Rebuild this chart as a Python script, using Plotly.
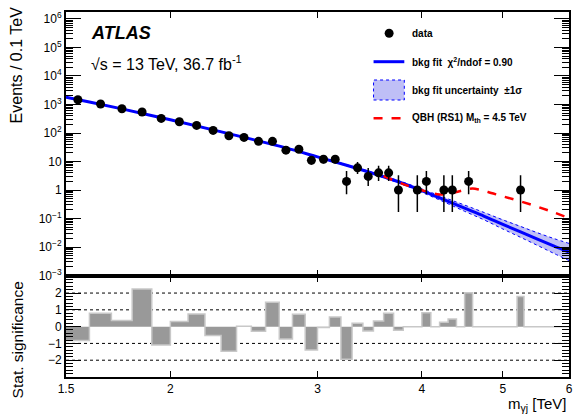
import numpy as np
import plotly.graph_objects as go

# ---------------- data ----------------
data_m = [1.55, 1.65, 1.75, 1.85, 1.95, 2.05, 2.15, 2.25, 2.35, 2.45, 2.55, 2.65, 2.75, 2.85,
          2.95, 3.05, 3.15, 3.25, 3.35, 3.45, 3.55, 3.65, 3.75, 3.95, 4.05, 4.25, 4.35, 4.55, 5.25]
data_n = [1470, 1040, 712, 546, 325, 249, 185, 123, 80, 70, 51, 51, 25, 27,
          11, 12, 12, 2, 6, 3, 4, 4, 1, 1, 2, 1, 1, 2, 1]
data_err_hi = [38, 32, 27, 23, 18, 16, 14, 11, 9.5, 8.9, 8.2, 8.2, 6.1, 6.3,
               4.4, 4.5, 4.5, 2.64, 3.58, 2.92, 3.16, 3.16, 2.3, 2.3, 2.64, 2.3, 2.3, 2.64, 2.3]
data_err_lo = [38, 32, 27, 23, 18, 16, 14, 11, 8.4, 7.9, 7.1, 7.1, 5.0, 5.2,
               3.28, 3.43, 3.43, 1.29, 2.38, 1.63, 1.91, 1.91, 0.83, 0.83, 1.29, 0.83, 0.83, 1.29, 0.83]

fit_m = [1.5, 1.6, 1.75, 2.0, 2.25, 2.5, 2.75, 3.0, 3.25, 3.5, 3.75, 4.0, 4.25, 4.5, 4.75,
         5.0, 5.25, 5.5, 5.75, 6.0]
fit_v = [1800, 1230, 703, 290, 129, 61, 30, 14.5, 7.4, 3.8, 1.95, 0.95, 0.46, 0.23, 0.12,
         0.062, 0.034, 0.019, 0.011, 0.0067]
band_hi = [1842, 1259, 719, 297, 132, 62.4, 30.7, 15.0, 7.75, 4.07, 2.14, 1.09, 0.553, 0.296, 0.162,
           0.0896, 0.0527, 0.0316, 0.020, 0.0134]
band_lo = [1759, 1202, 687, 283, 126, 59.6, 29.3, 14.0, 7.07, 3.55, 1.78, 0.83, 0.383, 0.179, 0.089,
           0.0429, 0.0219, 0.0114, 0.00605, 0.00336]

qbh_m = [3.6, 3.8, 4.0, 4.2, 4.3, 4.4, 4.5, 4.6, 4.7, 4.8, 5.0, 5.25, 5.5, 5.75, 6.0]
qbh_v = [3.1, 1.6, 0.98, 0.70, 0.72, 0.85, 1.0, 1.12, 1.0, 0.85, 0.6, 0.4, 0.26, 0.165, 0.104]

sig_edges = [round(v, 2) for v in np.arange(1.5, 6.05, 0.1)]
sig_vals = [-0.83, 0.80, 0.36, 2.24, -1.10, 0.30, 0.75, -0.53, -1.46, 0.03,
            -0.27, 1.45, -0.73, 0.73, -1.39, -0.05, 0.58, -1.94, 0.20, -0.26,
            0.34, 0.80, -0.21, 0.0, 0.0, 0.82, 0.0, 0.26, 0.46, 0.0,
            2.02, 0.0, 0.0, 0.0, 0.0, 0.0, 0.0, 1.79, 0.0, 0.0,
            0.0, 0.0, 0.0, 0.0, 0.0]

y_tickvals = [1e-3, 1e-2, 1e-1, 1, 10, 1e2, 1e3, 1e4, 1e5, 1e6]
y_ticktext = ["10<sup>−3</sup>", "10<sup>−2</sup>", "10<sup>−1</sup>", "1", "10",
              "10<sup>2</sup>", "10<sup>3</sup>", "10<sup>4</sup>", "10<sup>5</sup>", "10<sup>6</sup>"]
x_tickvals = [1.5, 2, 3, 4, 5, 6]
x_ticktext = ["1.5", "2", "3", "4", "5", "6"]
sig_tickvals = [-2, -1, 0, 1, 2]
sig_ticktext = ["−2", "−1", "0", "1", "2"]

# ---------------- layout geometry (pixels) ----------------
W, H = 577, 416
L, R, T, B = 66, 573, 12, 377
PW, PH = R - L, B - T
def px(x):
    return (x - L) / PW
def py(y):
    return (B - y) / PH

FONT = "Liberation Sans, Arial, Helvetica, sans-serif"
BLUE = "#0000ff"
RED = "#ff0000"

fig = go.Figure()

# band
fig.add_trace(go.Scatter(x=fit_m + fit_m[::-1], y=band_hi + band_lo[::-1], fill="toself",
                         fillcolor="rgba(180,180,245,0.85)", line=dict(width=0),
                         mode="lines", hoverinfo="skip", showlegend=False, xaxis="x", yaxis="y"))
for arr in (band_hi, band_lo):
    fig.add_trace(go.Scatter(x=fit_m, y=arr, mode="lines", line=dict(color=BLUE, width=1, dash="dot", shape="spline"),
                             showlegend=False, xaxis="x", yaxis="y"))
# fit line
fig.add_trace(go.Scatter(x=fit_m, y=fit_v, mode="lines", line=dict(color=BLUE, width=3, shape="spline"),
                         showlegend=False, xaxis="x", yaxis="y"))
# QBH
fig.add_trace(go.Scatter(x=qbh_m, y=qbh_v, mode="lines", line=dict(color=RED, width=2.5, dash="dash", shape="spline"),
                         showlegend=False, xaxis="x", yaxis="y"))
# data
fig.add_trace(go.Scatter(x=data_m, y=data_n, mode="markers",
                         marker=dict(color="black", size=9),
                         error_y=dict(type="data", symmetric=False, array=data_err_hi, arrayminus=data_err_lo,
                                      color="black", thickness=1.5, width=0),
                         showlegend=False, xaxis="x", yaxis="y"))

# significance histogram
fig.add_trace(go.Scatter(x=sig_edges, y=sig_vals + [sig_vals[-1]], mode="lines",
                         line=dict(shape="hv", color="#c8c8c8", width=1.5),
                         fill="tozeroy", fillcolor="#999999",
                         showlegend=False, xaxis="x2", yaxis="y2"))

minor_main = [m * 10.0 ** e for e in range(-3, 7) for m in range(2, 10) if m * 10.0 ** e < 2e6]

axis_line = dict(showline=True, linecolor="black", linewidth=2, mirror="allticks",
                 ticks="inside", tickcolor="black", showgrid=False, zeroline=False)
tick_font = dict(family=FONT, size=12, color="black")

fig.update_layout(
    width=W, height=H,
    margin=dict(l=L, r=W - R, t=T, b=H - B),
    paper_bgcolor="white", plot_bgcolor="white",
    showlegend=False,
    xaxis=dict(type="log", range=[np.log10(1.5), np.log10(6)], domain=[0, 1], anchor="y",
               tickvals=[2, 3, 4, 5], showticklabels=False, ticklen=6, tickwidth=1, **axis_line),
    yaxis=dict(type="log", range=[-3, 6.245], domain=[0.278, 1], anchor="x",
               tickvals=y_tickvals, ticktext=y_ticktext, ticklen=15, tickwidth=1.2, tickfont=tick_font,
               minor=dict(tickvals=minor_main, ticks="inside", ticklen=7, tickcolor="black", tickwidth=1),
               **axis_line),
    xaxis2=dict(type="log", range=[np.log10(1.5), np.log10(6)], domain=[0, 1], anchor="y2", matches="x",
                tickvals=x_tickvals, ticktext=x_ticktext, ticklen=6, tickwidth=1, tickfont=tick_font,
                **axis_line),
    yaxis2=dict(range=[-3, 3], domain=[0, 0.276], anchor="x2",
                tickvals=sig_tickvals, ticktext=sig_ticktext, ticklen=15, tickwidth=1.2, tickfont=tick_font,
                minor=dict(dtick=0.2, ticks="inside", ticklen=7, tickcolor="black", tickwidth=1),
                **axis_line),
)

# dotted reference lines in significance panel
for v in (-2, -1, 1, 2):
    fig.add_shape(type="line", xref="x2 domain", yref="y2", x0=0, x1=1, y0=v, y1=v,
                  line=dict(color="black", width=1, dash="dot"), layer="below")

# texts
fig.add_annotation(xref="paper", yref="paper", x=px(89), y=py(33), xanchor="left", yanchor="middle",
                   text="<b><i>ATLAS</i></b>", showarrow=False, font=dict(family=FONT, size=18, color="black"))
fig.add_annotation(xref="paper", yref="paper", x=px(89), y=py(63), xanchor="left", yanchor="middle",
                   text="√s = 13 TeV, 36.7 fb<sup>-1</sup>", showarrow=False,
                   font=dict(family=FONT, size=16, color="black"))

# legend (manual)
lx0, lx1, ltx = 376, 407, 413
fig.add_shape(type="circle", xref="paper", yref="paper", x0=px(387.2), x1=px(396.2), y0=py(37.8), y1=py(28.8),
              fillcolor="black", line=dict(color="black", width=0))
fig.add_shape(type="line", xref="paper", yref="paper", x0=px(lx0), x1=px(lx1), y0=py(61.7), y1=py(61.7),
              line=dict(color=BLUE, width=3))
fig.add_shape(type="rect", xref="paper", yref="paper", x0=px(lx0), x1=px(lx1), y0=py(100), y1=py(80),
              fillcolor="rgba(180,180,245,0.85)", line=dict(color=BLUE, width=1, dash="dot"))
fig.add_shape(type="line", xref="paper", yref="paper", x0=px(lx0), x1=px(lx1), y0=py(118.3), y1=py(118.3),
              line=dict(color=RED, width=2.5, dash="dash"))
leg_texts = [("data", 33.3), ("bkg fit  χ<sup>2</sup>/ndof = 0.90", 61.7),
             ("bkg fit uncertainty  ±1σ", 90), ("QBH (RS1) M<sub>th</sub> = 4.5 TeV", 118.3)]
for t, yy in leg_texts:
    fig.add_annotation(xref="paper", yref="paper", x=px(ltx), y=py(yy), xanchor="left", yanchor="middle",
                       text="<b>" + t + "</b>", showarrow=False, font=dict(family=FONT, size=10, color="black"))

# axis titles
fig.add_annotation(xref="paper", yref="paper", x=px(17), y=py(65), xanchor="center", yanchor="middle",
                   text="Events / 0.1 TeV", textangle=-90, showarrow=False,
                   font=dict(family=FONT, size=16, color="black"))
fig.add_annotation(xref="paper", yref="paper", x=px(17), y=py(340), xanchor="center", yanchor="middle",
                   text="Stat. significance", textangle=-90, showarrow=False,
                   font=dict(family=FONT, size=15.5, color="black"))
fig.add_annotation(xref="paper", yref="paper", x=px(572), y=py(404), xanchor="right", yanchor="middle",
                   text="m<sub>γj</sub> [TeV]", showarrow=False,
                   font=dict(family=FONT, size=15, color="black"))

fig.write_html("out.html", config={"displayModeBar": False},
               post_script="document.body.style.margin='0px';document.body.style.overflow='hidden';")
